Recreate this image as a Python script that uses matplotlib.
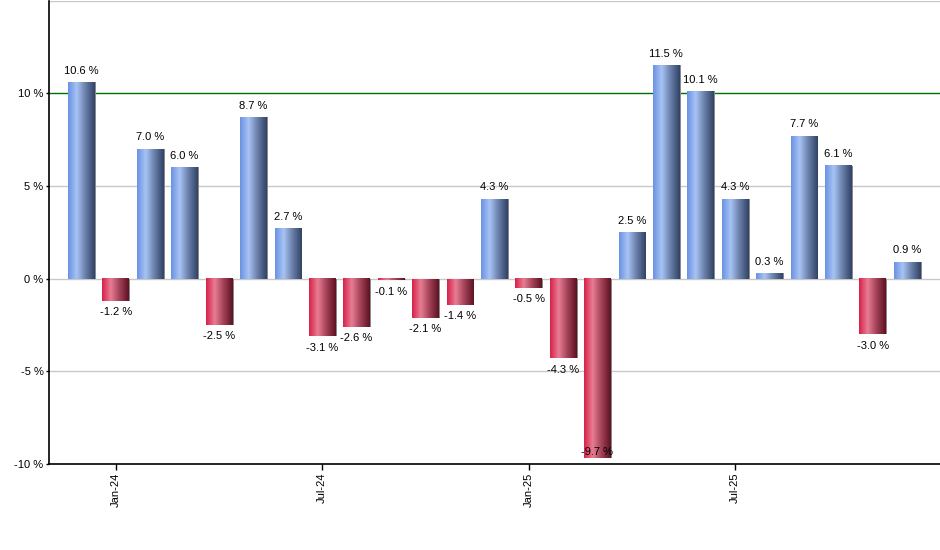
import numpy as np
import matplotlib
matplotlib.use("Agg")
import matplotlib.pyplot as plt
from matplotlib.colors import LinearSegmentedColormap

plt.rcParams['font.family'] = ['Liberation Sans', 'DejaVu Sans']
plt.rcParams['font.size'] = 8

# monthly returns Dec-23 .. Dec-25
months = ['Dec-23', 'Jan-24', 'Feb-24', 'Mar-24', 'Apr-24', 'May-24', 'Jun-24',
          'Jul-24', 'Aug-24', 'Sep-24', 'Oct-24', 'Nov-24', 'Dec-24',
          'Jan-25', 'Feb-25', 'Mar-25', 'Apr-25', 'May-25', 'Jun-25',
          'Jul-25', 'Aug-25', 'Sep-25', 'Oct-25', 'Nov-25', 'Dec-25']
returns = [10.6, -1.2, 7.0, 6.0, -2.5, 8.7, 2.7,
           -3.1, -2.6, -0.1, -2.1, -1.4, 4.3,
           -0.5, -4.3, -9.7, 2.5, 11.5, 10.1,
           4.3, 0.3, 7.7, 6.1, -3.0, 0.9]
tick_labels = ['Jan-24', 'Jul-24', 'Jan-25', 'Jul-25']
yticks = [-10, -5, 0, 5, 10]
ymin, ymax = -10, 15

blue_cm = LinearSegmentedColormap.from_list(
    'blue', [(0, '#6b93e3'), (0.32, '#a8c3f4'), (0.65, '#6a80aa'), (1, '#314266')])
red_cm = LinearSegmentedColormap.from_list(
    'red', [(0, '#d8224a'), (0.32, '#e87d93'), (0.65, '#a34258'), (1, '#5e1222')])

fig = plt.figure(figsize=(9.4, 5.5), dpi=100)
ax = fig.add_axes([49 / 940, 86 / 550, 1 - 49 / 940, (549.5 - 86) / 550])

x = np.arange(len(returns))
w = 0.77

# grid
for v in [-5, 0, 5, 15]:
    ax.axhline(v, color='#c8c8c8', lw=1, zorder=0)
ax.axhline(10, color='#007000', lw=1, zorder=0)

# shadows
ax.bar(x + 0.04, returns, width=w, color='#8a8a8a', zorder=1)
bars = ax.bar(x, returns, width=w, color='none', zorder=2)

grad = np.linspace(0, 1, 64).reshape(1, -1)
for b, v in zip(bars, returns):
    x0, y0 = b.get_x(), b.get_y()
    x1, y1 = x0 + b.get_width(), y0 + b.get_height()
    ax.imshow(grad, cmap=blue_cm if v >= 0 else red_cm, aspect='auto',
              extent=[x0, x1, min(y0, y1), max(y0, y1)], zorder=2,
              interpolation='bilinear')
    cx = b.get_x() + b.get_width() / 2
    if v >= 0:
        ax.text(cx, v + 0.35, f'{v:.1f} %', ha='center', va='bottom', zorder=3)
    elif v - 0.35 - 0.65 < ymin:
        # keep the label inside the plot area
        ax.text(cx, ymin + 0.4, f'{v:.1f} %', ha='center', va='bottom', zorder=3)
    else:
        ax.text(cx, v - 0.35, f'{v:.1f} %', ha='center', va='top', zorder=3)

ax.set_xlim(-0.94, 24.96)
ax.set_ylim(ymin, ymax)
ax.set_yticks(yticks)
ax.set_yticklabels([f'{t} %' for t in yticks])
ax.set_xticks([months.index(t) for t in tick_labels])
ax.set_xticklabels(tick_labels, rotation=90)
ax.tick_params(axis='both', length=4, width=1, color='black', pad=2)
ax.tick_params(axis='y', length=2)
for s in ['top', 'right']:
    ax.spines[s].set_visible(False)
for s in ['left', 'bottom']:
    ax.spines[s].set_linewidth(1.2)

fig.savefig('out.png', dpi=100)
